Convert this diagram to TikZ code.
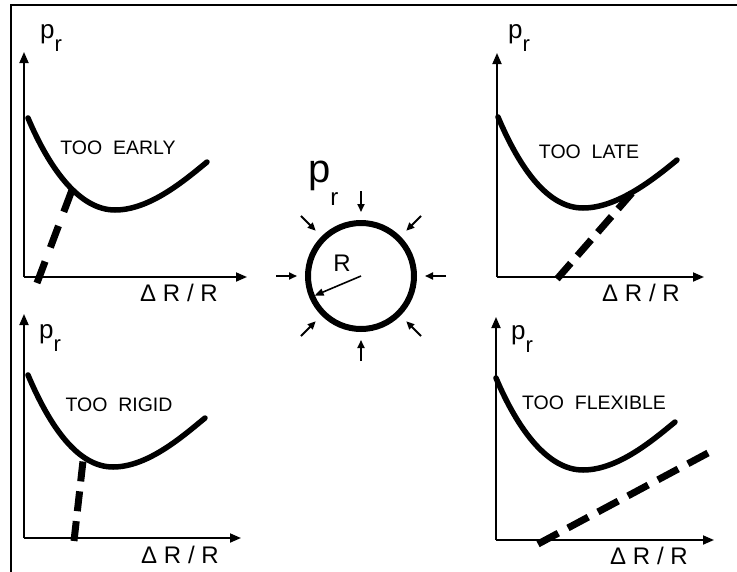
\documentclass[tikz,border=0pt]{standalone}
\usepackage{fontspec}
\setmainfont{Liberation Sans}
\usetikzlibrary{arrows.meta,calc}
\newcommand{\prlabel}{{\fontsize{26}{26}\selectfont p\raisebox{-13pt}{\fontsize{22}{22}\selectfont r}}}
\newcommand{\drlabel}{{\fontsize{24}{24}\selectfont \symbol{"0394}\hspace{0.28em}R\hspace{0.28em}/\hspace{0.28em}R}}
\begin{document}
\begin{tikzpicture}[x=1pt,y=-1pt,
  axis/.style={line width=1.8pt,-{Triangle[length=11pt,width=9pt]}},
  curve/.style={line width=5.5pt,line cap=round},
  dline/.style={line width=7pt},
  lbl/.style={inner sep=0pt,font=\fontsize{19.5}{19.5}\selectfont},
  small/.style={line width=1.8pt,-{Triangle[length=8pt,width=7pt]}}]
\useasboundingbox (0,0) rectangle (737,571);
\draw[line width=1.5pt] (11,575) -- (11,5) -- (740,5);

% ---------- top-left: TOO EARLY
\coordinate (o1) at (24,277);
\coordinate (y1) at (24,52);
\coordinate (x1) at (247,277);
\draw[axis] (o1) -- (y1);
\draw[axis] (o1) -- (x1);
\coordinate (a1) at (28,118); \coordinate (m1) at (115,210); \coordinate (e1) at (207,162);
\draw[curve] (a1) .. controls (50,170) and (80,210) .. (m1) .. controls (150,210) and (185,180) .. (e1);
\coordinate (d1s) at (37,283); \coordinate (d1e) at (72,190);
\draw[dline,dash pattern=on 23pt off 15pt] (d1s) -- (d1e);
\node[lbl] (t1) at (118,148) {TOO~ EARLY};
\node[inner sep=0pt,anchor=base west] (p1) at (40,38) {\prlabel};
\node[inner sep=0pt] (r1) at (179,293) {\drlabel};

% ---------- top-right: TOO LATE
\coordinate (o2) at (497,277);
\coordinate (y2) at (497,53);
\coordinate (x2) at (704,277);
\draw[axis] (o2) -- (y2);
\draw[axis] (o2) -- (x2);
\coordinate (a2) at (498,117); \coordinate (m2) at (583,208); \coordinate (e2) at (677,160);
\draw[curve] (a2) .. controls (520,169) and (548,208) .. (m2) .. controls (618,208) and (655,178) .. (e2);
\coordinate (d2s) at (557,279); \coordinate (d2e) at (632,193);
\draw[dline,dash pattern=on 21pt off 10pt] (d2s) -- (d2e);
\node[lbl] (t2) at (589,152) {TOO~ LATE};
\node[inner sep=0pt,anchor=base west] (p2) at (508,38) {\prlabel};
\node[inner sep=0pt] (r2) at (641,293) {\drlabel};

% ---------- bottom-left: TOO RIGID
\coordinate (o3) at (24,538);
\coordinate (y3) at (24,314);
\coordinate (x3) at (241,538);
\draw[axis] (o3) -- (y3);
\draw[axis] (o3) -- (x3);
\coordinate (a3) at (28,375); \coordinate (m3) at (113,467); \coordinate (e3) at (205,418);
\draw[curve] (a3) .. controls (50,427) and (78,467) .. (m3) .. controls (148,467) and (183,436) .. (e3);
\coordinate (d3s) at (74,541); \coordinate (d3e) at (83,461);
\draw[dline,dash pattern=on 20pt off 10pt] (d3s) -- (d3e);
\node[lbl] (t3) at (119,405) {TOO~ RIGID};
\node[inner sep=0pt,anchor=base west] (p3) at (39,338) {\prlabel};
\node[inner sep=0pt] (r3) at (180,555) {\drlabel};

% ---------- bottom-right: TOO FLEXIBLE
\coordinate (o4) at (496,540);
\coordinate (y4) at (496,317);
\coordinate (x4) at (714,540);
\draw[axis] (o4) -- (y4);
\draw[axis] (o4) -- (x4);
\coordinate (a4) at (496,378); \coordinate (m4) at (583,470); \coordinate (e4) at (675,422);
\draw[curve] (a4) .. controls (518,430) and (548,470) .. (m4) .. controls (618,470) and (653,440) .. (e4);
\coordinate (d4s) at (538,544); \coordinate (d4e) at (708,453);
\draw[dline,dash pattern=on 23pt off 11pt] (d4s) -- (d4e);
\node[lbl] (t4) at (594,403) {TOO~ FLEXIBLE};
\node[inner sep=0pt,anchor=base west] (p4) at (511,339) {\prlabel};
\node[inner sep=0pt] (r4) at (649,556) {\drlabel};

% ---------- centre: ring under pressure
\coordinate (c) at (361,276);
\draw[line width=6pt] (c) circle[radius=53];
\coordinate (rt) at (314.6,295.6);
\draw[line width=1.6pt,-{Triangle[length=9pt,width=7pt]}] (c) -- (rt);
\node[inner sep=0pt,font=\fontsize{24}{24}\selectfont] (rl) at (342,263) {R};
\node[inner sep=0pt,anchor=base west] (pc) at (308,182)
  {\fontsize{40}{40}\selectfont p\raisebox{-23pt}{\fontsize{24}{24}\selectfont r}};
\foreach \a in {0,45,...,315}
  \draw[small] (c) ++(\a:85) -- ++(\a+180:21);
\end{tikzpicture}
\end{document}
